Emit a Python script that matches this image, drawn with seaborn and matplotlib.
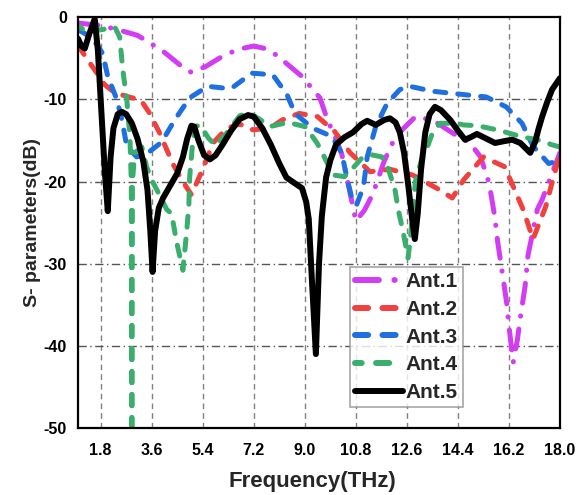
import numpy as np
import pandas as pd
import matplotlib
matplotlib.use("Agg")
import matplotlib.pyplot as plt
import seaborn as sns

# ---------------- data ----------------
ant1_x = [1.0, 1.8, 2.4, 3.1, 3.95, 4.24, 4.77, 5.0, 5.5, 6.07, 6.64, 7.2, 7.6, 8.0, 8.9, 9.53, 9.8,
          10.06, 10.3, 10.5, 10.8, 11.1, 11.4, 11.8, 12.2, 12.9, 13.5, 14.4, 14.8, 15.2, 15.5, 15.7,
          15.8, 15.96, 16.12, 16.2, 16.35, 16.5, 16.6, 16.77, 16.87, 17.2, 17.37, 17.72, 18.0]
ant1_y = [-0.7, -1.0, -1.5, -2.2, -4.0, -4.8, -6.3, -6.7, -6.0, -4.8, -3.9, -3.5, -3.8, -4.6, -7.2,
          -9.8, -12.5, -14.5, -16.6, -19.8, -24.8, -23.5, -21.5, -17.5, -14.5, -12.1, -12.5, -14.5,
          -15.2, -17.0, -20.2, -24.3, -27.3, -31.0, -34.8, -37.6, -42.0, -39.2, -36.6, -32.7, -29.0,
          -23.4, -22.2, -19.0, -16.5]

ant2_x = [1.0, 1.34, 1.59, 1.94, 2.3, 2.9, 3.2, 3.53, 3.88, 4.34, 4.66, 5.0, 5.4, 5.76, 6.25, 6.7,
          7.17, 7.77, 8.2, 8.8, 9.45, 10.05, 10.6, 11.3, 12.0, 12.8, 13.65, 14.2, 14.6, 15.3, 16.05,
          16.4, 16.7, 17.05, 17.5, 17.87, 18.0]
ant2_y = [-3.4, -5.2, -6.4, -8.2, -9.2, -9.8, -10.0, -11.7, -14.1, -17.8, -19.8, -21.6, -18.5, -15.3,
          -13.5, -13.0, -13.7, -13.5, -12.5, -11.7, -12.1, -13.9, -16.5, -18.8, -18.5, -19.2, -20.8,
          -22.0, -19.8, -17.0, -18.2, -21.0, -23.4, -27.0, -23.0, -18.2, -17.0]

ant3_x = [1.0, 1.5, 1.87, 2.05, 2.37, 2.55, 2.72, 3.07, 3.43, 3.95, 4.41, 4.94, 5.58, 6.1, 6.43, 7.13,
          7.87, 8.37, 8.65, 9.28, 9.95, 10.3, 10.5, 10.7, 10.83, 11.07, 11.2, 11.5, 11.9, 12.35, 12.7,
          13.5, 14.58, 15.4, 16.1, 16.66, 17.05, 17.6, 18.0]
ant3_y = [-1.5, -2.5, -4.4, -7.2, -10.0, -12.5, -15.7, -17.0, -16.6, -15.2, -12.5, -9.8, -8.4, -8.6,
          -8.6, -6.8, -7.0, -9.4, -11.7, -13.5, -14.5, -16.5, -19.8, -22.6, -22.8, -20.6, -17.0, -13.3,
          -10.5, -8.8, -8.4, -9.0, -9.4, -9.7, -10.9, -12.9, -15.7, -17.8, -17.4]

ant4_x = [1.0, 1.3, 1.84, 2.3, 2.47, 2.58, 2.72, 2.83, 2.88, 2.9, 2.92, 3.0, 3.25, 3.42, 3.6, 3.78,
          4.13, 4.3, 4.48, 4.7, 4.84, 4.91, 4.94, 5.05, 5.15, 5.3, 5.6, 5.85, 6.2, 6.7, 7.0, 7.4, 7.77,
          8.4, 9.0, 9.1, 9.43, 9.6, 9.9, 10.0, 10.4, 10.66, 11.02, 11.3, 11.72, 11.9, 12.07, 12.18,
          12.3, 12.46, 12.64, 12.72, 12.9, 13.12, 13.33, 13.5, 13.77, 14.37, 14.58, 15.1, 15.9, 16.6,
          17.3, 17.7, 18.0]
ant4_y = [-1.0, -1.8, -1.5, -1.2, -2.4, -6.4, -10.0, -14.5, -20.0, -55.0, -20.0, -16.5, -15.8, -18.2,
          -19.8, -21.0, -23.4, -23.9, -27.4, -30.8, -25.8, -22.8, -19.4, -15.0, -13.3, -13.1, -14.7,
          -15.6, -14.3, -12.0, -11.6, -12.4, -13.3, -12.8, -13.3, -13.7, -15.3, -16.4, -18.5, -19.2,
          -19.4, -18.5, -17.1, -16.7, -17.0, -18.0, -19.8, -21.0, -23.5, -26.0, -29.3, -27.0, -20.0,
          -17.3, -15.7, -14.1, -12.9, -12.9, -13.1, -13.2, -13.8, -14.5, -15.0, -15.5, -15.8]

ant5_x = [1.0, 1.12, 1.24, 1.4, 1.59, 1.7, 1.8, 1.95, 2.05, 2.15, 2.25, 2.4, 2.54, 2.7, 2.9, 3.1, 3.3,
          3.45, 3.55, 3.63, 3.72, 3.85, 4.0, 4.3, 4.5, 4.7, 4.85, 5.0, 5.1, 5.25, 5.45, 5.65, 5.85,
          6.1, 6.4, 6.7, 7.0, 7.2, 7.5, 7.8, 8.1, 8.35, 8.6, 8.9, 9.05, 9.14, 9.25, 9.39, 9.5, 9.6,
          9.75, 9.9, 10.1, 10.4, 10.7, 11.0, 11.2, 11.5, 11.8, 12.0, 12.2, 12.35, 12.5, 12.65, 12.8,
          12.88, 12.98, 13.1, 13.25, 13.4, 13.59, 13.8, 14.13, 14.4, 14.65, 14.85, 15.07, 15.3, 15.71,
          16.0, 16.31, 16.6, 16.95, 17.12, 17.25, 17.37, 17.55, 17.72, 18.0]
ant5_y = [-2.6, -3.5, -3.8, -2.0, -0.2, -4.0, -10.0, -19.0, -23.6, -17.0, -13.5, -11.8, -11.5, -11.8,
          -12.9, -14.8, -17.5, -21.0, -26.0, -31.0, -26.0, -23.2, -22.0, -20.2, -19.0, -17.0, -14.8,
          -13.2, -13.3, -15.0, -16.8, -17.3, -16.8, -15.5, -13.8, -12.4, -11.9, -12.1, -13.5, -15.5,
          -17.8, -19.5, -20.1, -20.8, -22.5, -24.6, -32.0, -41.0, -30.0, -24.2, -19.5, -17.4, -15.5,
          -14.6, -14.0, -13.0, -12.6, -13.1, -12.5, -12.3, -12.8, -14.0, -16.5, -20.5, -25.0, -27.0,
          -24.0, -18.5, -14.0, -11.8, -10.9, -11.3, -12.5, -13.8, -14.9, -14.6, -14.2, -14.6, -15.3,
          -15.1, -14.9, -15.3, -16.5, -15.2, -13.5, -12.1, -10.3, -8.8, -7.4]

labels = ["Ant.1", "Ant.2", "Ant.3", "Ant.4", "Ant.5"]
xticks = [1.8, 3.6, 5.4, 7.2, 9.0, 10.8, 12.6, 14.4, 16.2, 18.0]
yticks = [0, -10, -20, -30, -40, -50]

# ---------------- styling ----------------
sns.set_style("white")
plt.rcParams['font.family'] = ['Liberation Sans', 'DejaVu Sans']
plt.rcParams['font.weight'] = 'bold'
plt.rcParams['path.simplify'] = False

DPI = 100
colors = ['#D23CF2', '#F0413F', '#1E6FE0', '#3AAE6C', '#000000']
dashes = [(4.0, 2.6, 0.05, 2.6), (2.2, 2.4), (2.2, 2.4), (2.2, 2.4), None]
lw = 3.6

fig = plt.figure(figsize=(5.77, 4.95), dpi=DPI)
ax = fig.add_axes([78 / 577, 1 - 428 / 495, (560 - 78) / 577, (428 - 17.3) / 495])
ax.set_xlim(1.0, 18.0)
ax.set_ylim(-50, 0)

series = [(ant1_x, ant1_y), (ant2_x, ant2_y), (ant3_x, ant3_y), (ant4_x, ant4_y), (ant5_x, ant5_y)]
for i, ((xs, ys), lab, c, d) in enumerate(zip(series, labels, colors, dashes)):
    df = pd.DataFrame({"Frequency": xs, "S": ys})
    sns.lineplot(data=df, x="Frequency", y="S", ax=ax, color=c, lw=lw, label=lab,
                 sort=False, estimator=None)
    line = ax.get_lines()[-1]
    if d is not None:
        offset = 0.0
        if i == 3:
            # centre a dash on the deep null so the down/up strokes coincide
            pts = ax.transData.transform(np.column_stack([xs, ys]))
            k = int(np.argmin(ys))
            seg = np.hypot(*np.diff(pts[:k + 1], axis=0).T).sum()
            unit = lw * DPI / 72.0
            period = sum(d) * unit
            want = d[0] * unit / 2.0
            offset = ((want - seg) % period) / unit
        line.set_linestyle((offset, d))
        line.set_dash_capstyle('round')
    else:
        line.set_solid_capstyle('round')
        line.set_solid_joinstyle('round')
        line.set_linewidth(4.3)

ax.set_xlim(1.0, 18.0)
ax.set_ylim(-50, 0)
ax.set_xticks(xticks)
ax.set_xticklabels([f"{t:.1f}" for t in xticks], fontsize=11.5, fontweight='bold')
ax.set_yticks(yticks)
ax.set_yticklabels([str(t) for t in yticks], fontsize=11.5, fontweight='bold')
ax.tick_params(axis='both', direction='out', length=5, width=1.3, colors='black', pad=3)
ax.tick_params(axis='x', pad=6)

for xv in xticks[:-1]:
    ax.axvline(xv, color='#808080', lw=1.0, ls=(0, (4, 3)), zorder=0)
for yv in yticks[1:-1]:
    ax.axhline(yv, color='#555555', lw=1.0, ls=(0, (6, 2.5, 1, 2.5)), zorder=0)

for s in ax.spines.values():
    s.set_linewidth(1.6)
    s.set_color('black')

ax.set_xlabel("Frequency(THz)", fontsize=16, fontweight='bold', labelpad=9)
ax.xaxis.label.set_x((312.5 - 78) / 482)
ax.set_ylabel("S- parameters(dB)", fontsize=14, fontweight='bold', labelpad=2)

leg = ax.legend(loc='upper left', bbox_to_anchor=((350 - 78) / 482, (428 - 267) / 410.7),
                frameon=True, fancybox=False, handlelength=2.3, handletextpad=0.1,
                borderpad=0.25, labelspacing=0.42, borderaxespad=0.0,
                prop={'family': 'Liberation Sans', 'weight': 'bold', 'size': 15})
leg.get_frame().set_edgecolor('#909090')
leg.get_frame().set_linewidth(1.2)
for h in leg.get_lines():
    h.set_linewidth(4.3)

fig.savefig("out.png", dpi=DPI)
